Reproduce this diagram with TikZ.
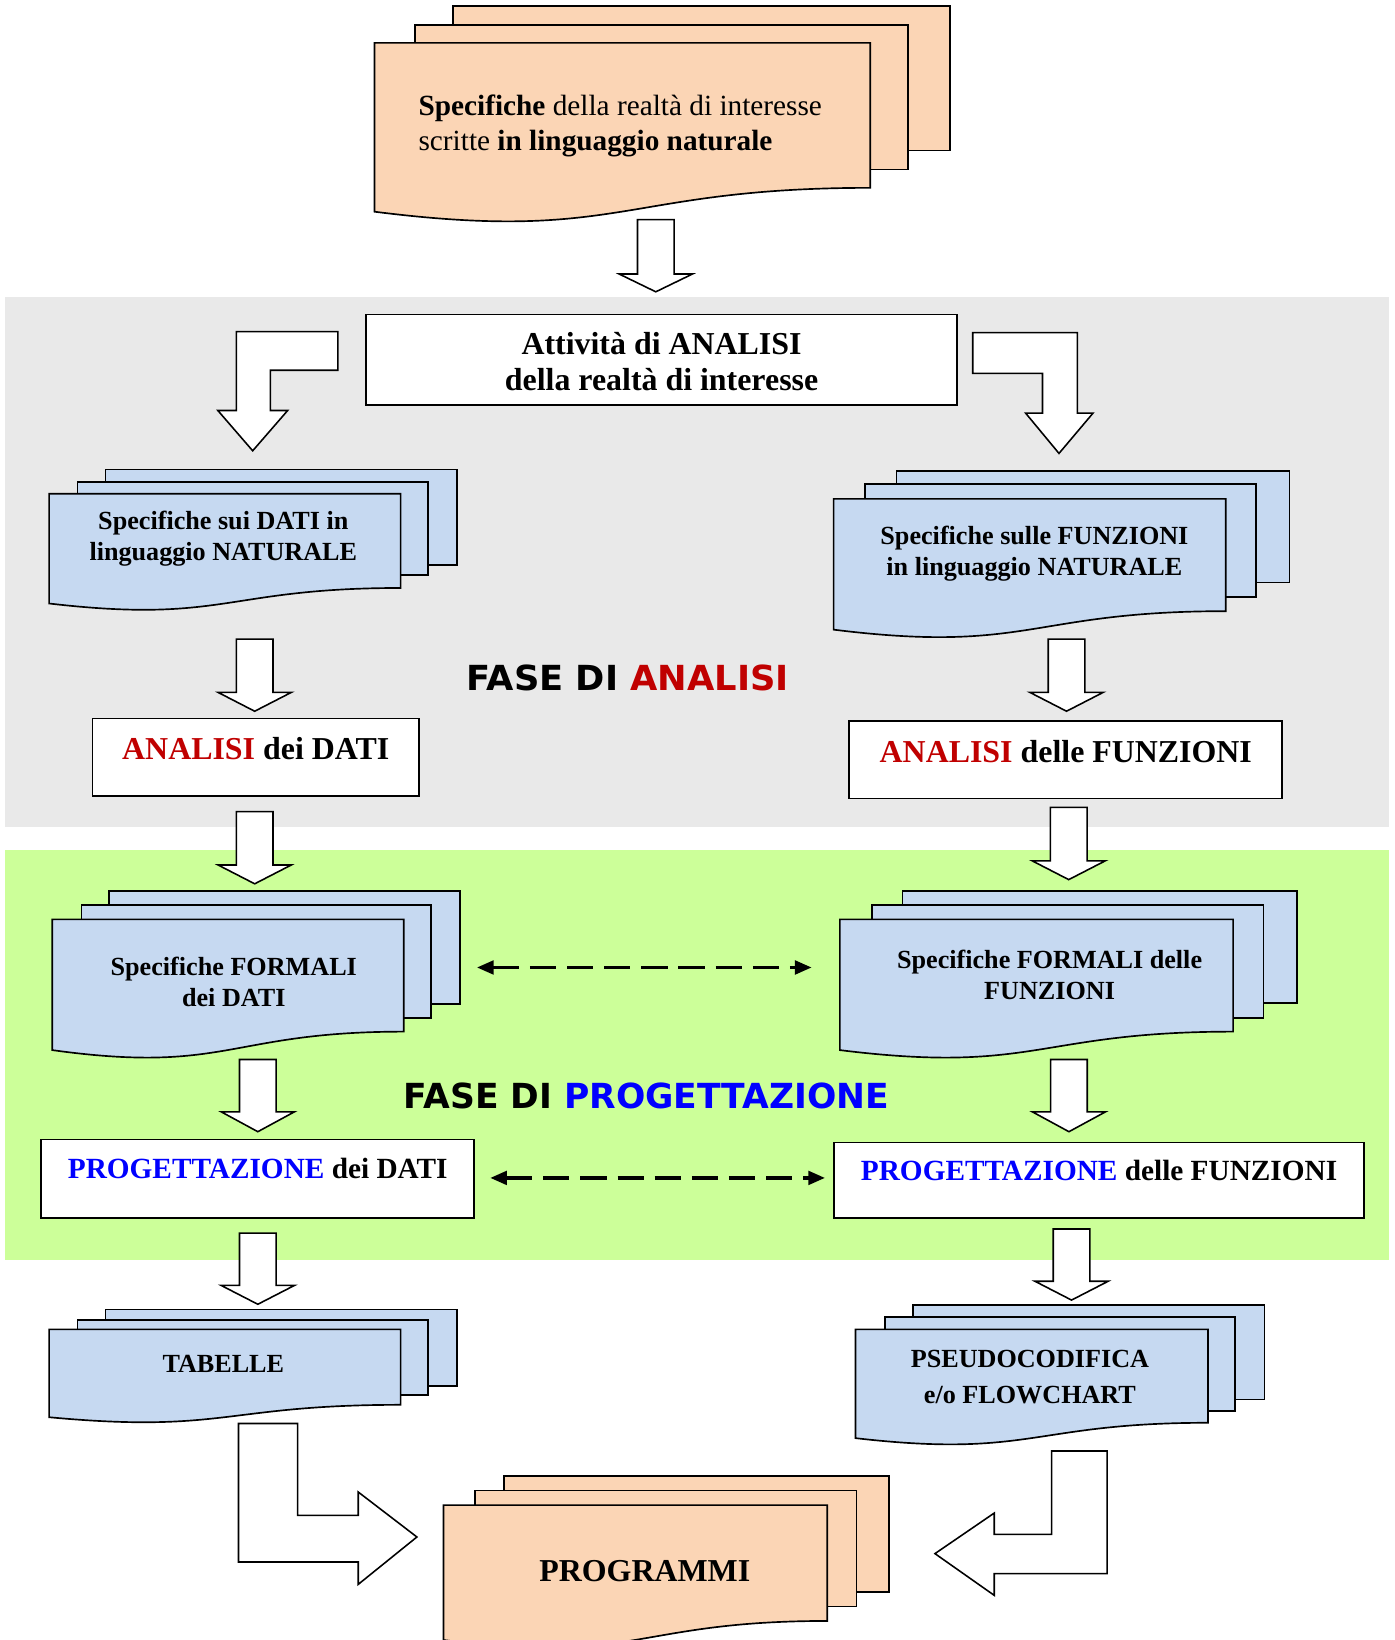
\documentclass[tikz,border=0pt]{standalone}
\usepackage{fontspec}
\setmainfont{Liberation Serif}
\newfontfamily\fasefont{DejaVu Sans}
\usetikzlibrary{arrows.meta}
\definecolor{peach}{HTML}{FBD5B5}
\definecolor{docblue}{HTML}{C6D9F1}
\definecolor{bandgray}{HTML}{E9E9E9}
\definecolor{bandgreen}{HTML}{CCFF99}
\definecolor{anred}{HTML}{C00000}
\definecolor{progblue}{HTML}{0000FF}

% back/middle sheet: fill, x0, y0, x1, y1
\newcommand\docsheet[5]{\filldraw[docline,fill=#1] (#2,#3) rectangle (#4,#5);}
% front sheet with wavy bottom: fill, x0, top, x1, left-bottom
\newcommand\docfront[5]{%
  \pgfmathsetmacro\dsDY{#5-#3}%
  \pgfmathsetmacro\dsYR{#3+0.8587*\dsDY}%
  \pgfmathsetmacro\dsCY{#3+1.1863*\dsDY}%
  \pgfmathsetmacro\dsXM{(#2+#4)/2}%
  \filldraw[docline,fill=#1] (#2,#3) -- (#4,#3) -- (#4,\dsYR)
    .. controls (\dsXM,\dsYR) and (\dsXM,\dsCY) .. (#2,#5) -- cycle;}
% straight block arrow down: centre x, top, head start, tip
\newcommand\blockdown[4]{%
  \filldraw[blockarrow] (#1-17.5,#2) -- (#1+17.5,#2) -- (#1+17.5,#3) -- (#1+35,#3)
    -- (#1,#4) -- (#1-35,#3) -- (#1-17.5,#3) -- cycle;}

\begin{document}
\begin{tikzpicture}[x=1pt,y=-1pt,
  docline/.style={draw=black,line width=1.6pt,line join=miter},
  blockarrow/.style={draw=black,fill=white,line width=1.5pt,line join=miter},
  boxnode/.style={draw=black,fill=white,line width=1.6pt,inner sep=0pt,outer sep=0pt},
  txt/.style={inner sep=0pt,anchor=base},
  tA/.style={txt,font=\bfseries\fontsize{25}{30}\selectfont},
  tB/.style={txt,font=\bfseries\fontsize{28}{33}\selectfont},
  tC/.style={txt,font=\bfseries\fontsize{30.5}{36}\selectfont},
  dasharrow/.style={line width=3.2pt,dash pattern=on 25pt off 10.5pt,
    {Triangle[length=16pt,width=13pt]}-{Triangle[length=16pt,width=13pt]}}]

\useasboundingbox (0,0) rectangle (1333,1568);
\fill[white] (0,0) rectangle (1333,1568);

% phase bands
\fill[bandgray] (5,284.3) rectangle (1327.6,791);
\fill[bandgreen] (5,813) rectangle (1327.6,1204.3);

% ---- top document
\docsheet{peach}{433}{6}{908}{144}
\docsheet{peach}{397}{24}{868}{162}
\docfront{peach}{358}{41}{832}{202.4}
\node[txt,anchor=base west,font=\fontsize{28}{34}\selectfont] (spec1) at (400,110)
  {\textbf{Specifiche} della realtà di interesse};
\node[txt,anchor=base west,font=\fontsize{28}{34}\selectfont] (spec2) at (400,143.5)
  {scritte \textbf{in linguaggio naturale}};

\blockdown{627}{210}{262}{279}

% ---- analysis box
\node[boxnode,minimum width=565pt,minimum height=86.7pt] (attivita) at (632.5,344) {};
\node[tC] (att1) at (632.5,338.6) {Attività di ANALISI};
\node[tC] (att2) at (632.5,373) {della realtà di interesse};

% bent arrows
\filldraw[blockarrow] (226,317) -- (323,317) -- (323,354) -- (258.5,354) -- (258.5,392.5)
  -- (275,392.5) -- (241.6,431) -- (208.3,392.5) -- (226,392.5) -- cycle;
\filldraw[blockarrow] (930,318) -- (1030,318) -- (1030,395) -- (1045,395) -- (1012.5,433.5)
  -- (980.6,395) -- (996.7,395) -- (996.7,357) -- (930,357) -- cycle;

% ---- natural language specs
\docsheet{docblue}{101}{449}{437}{540}
\docsheet{docblue}{74}{461}{409}{550}
\docfront{docblue}{47}{472}{383}{577}
\node[tA] (sd1) at (213.5,506) {Specifiche sui DATI in};
\node[tA] (sd2) at (213.5,536) {linguaggio NATURALE};

\docsheet{docblue}{857}{450}{1233}{557}
\docsheet{docblue}{827}{463}{1201}{571}
\docfront{docblue}{797}{477}{1172}{602}
\node[tA] (sf1) at (989,520.5) {Specifiche sulle FUNZIONI};
\node[tA] (sf2) at (989,550.5) {in linguaggio NATURALE};

\blockdown{243.5}{611}{662}{680}
\blockdown{1019.7}{611}{662}{680}

\node[txt,anchor=base west] (faseA) at (446,660.5)
  {\resizebox{308pt}{24.5pt}{\fasefont\bfseries FASE DI \textcolor{anred}{ANALISI}}};

\node[boxnode,minimum width=312pt,minimum height=74.2pt] (anDati) at (244.5,724.1) {};
\node[tC] (anDatiT) at (244.5,726) {\textcolor{anred}{ANALISI} dei DATI};
\node[boxnode,minimum width=414pt,minimum height=74.2pt] (anFunz) at (1019,726.3) {};
\node[tC] (anFunzT) at (1019,729) {\textcolor{anred}{ANALISI} delle FUNZIONI};

\blockdown{243.5}{776}{827}{845}
\blockdown{1021.8}{772}{823}{841}

% ---- formal specs
\docsheet{docblue}{104}{852}{440}{960}
\docsheet{docblue}{78}{865}{412}{973}
\docfront{docblue}{50}{879}{386}{1004}
\node[tA] (fd1) at (223.5,932.4) {Specifiche FORMALI};
\node[tA] (fd2) at (223.5,962) {dei DATI};

\docsheet{docblue}{863}{852}{1240}{959}
\docsheet{docblue}{834}{865}{1208}{973}
\docfront{docblue}{803}{879}{1179}{1004}
\node[tA] (ff1) at (1003.5,926) {Specifiche FORMALI delle};
\node[tA] (ff2) at (1003.5,955.7) {FUNZIONI};

\coordinate (dA1) at (456,925);
\coordinate (dA2) at (776,925);
\draw[dasharrow] (dA1) -- (dA2);

\blockdown{246.5}{1013}{1063}{1082}
\blockdown{1022}{1013}{1063}{1082}

\node[txt,anchor=base west] (faseP) at (386,1060)
  {\resizebox{464pt}{24.5pt}{\fasefont\bfseries FASE DI \textcolor{progblue}{PROGETTAZIONE}}};

% ---- design boxes
\node[boxnode,minimum width=414pt,minimum height=74.7pt] (prDati) at (246.4,1126.9) {};
\node[tB] (prDatiT) at (246.4,1127) {\textcolor{progblue}{PROGETTAZIONE} dei DATI};
\node[boxnode,minimum width=507pt,minimum height=71.8pt] (prFunz) at (1050.8,1128.3) {};
\node[tB] (prFunzT) at (1050.8,1129) {\textcolor{progblue}{PROGETTAZIONE} delle FUNZIONI};

\coordinate (dB1) at (468.7,1126.2);
\coordinate (dB2) at (788.8,1126.2);
\draw[dasharrow] (dB1) -- (dB2);

\blockdown{246.5}{1179}{1229}{1247}
\blockdown{1024.5}{1175}{1225}{1243}

% ---- results
\docsheet{docblue}{101}{1252}{437}{1325}
\docsheet{docblue}{74}{1262}{409}{1334}
\docfront{docblue}{47}{1271}{383}{1355}
\node[tA] (tab) at (213.5,1311.8) {TABELLE};

\docsheet{docblue}{873}{1248}{1209}{1338}
\docsheet{docblue}{846}{1259}{1181}{1349}
\docfront{docblue}{818}{1271}{1155}{1375}
\node[tA] (ps1) at (984.7,1307.9) {PSEUDOCODIFICA};
\node[tA] (ps2) at (984.7,1342) {e/o FLOWCHART};

\filldraw[blockarrow] (228,1361) -- (284.6,1361) -- (284.6,1448.8) -- (342.5,1448.8)
  -- (342.5,1426.5) -- (398.6,1469.5) -- (342.5,1514.8) -- (342.5,1493.4) -- (228,1493.4) -- cycle;
\filldraw[blockarrow] (1005.4,1387.3) -- (1058.5,1387.3) -- (1058.5,1504.6) -- (950.6,1504.6)
  -- (950.6,1525.3) -- (893.9,1485.4) -- (950.6,1446.6) -- (950.6,1467) -- (1005.4,1467) -- cycle;

\docsheet{peach}{482}{1411}{850}{1522}
\docsheet{peach}{454}{1425}{819}{1536}
\docfront{peach}{424}{1439}{791}{1568}
\node[tC] (prog) at (616.5,1512.5) {PROGRAMMI};

\end{tikzpicture}
\end{document}
